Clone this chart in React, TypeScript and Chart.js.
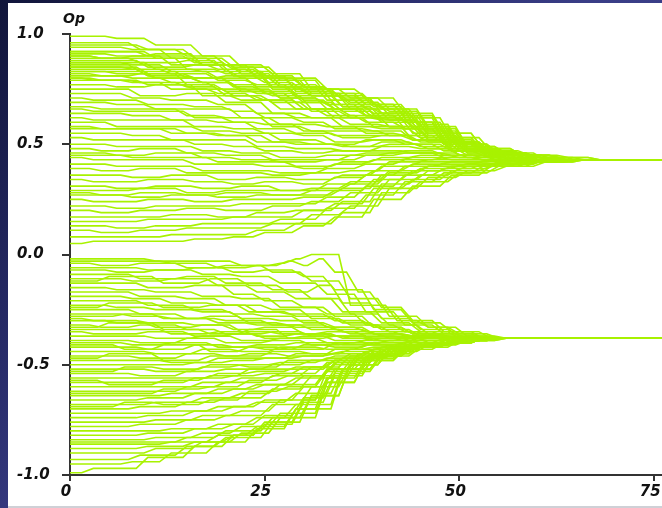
import React, { useEffect, useRef } from "react";
import { Chart, registerables } from "chart.js";

Chart.register(...registerables);

// ---- data ----
const axisTitle = "Op";
const xTicks = [0, 25, 50, 75];
const yTicks = [-1, -0.5, 0, 0.5, 1];
const lastStep = 76;
const upperConsensus = 0.43;
const lowerConsensus = -0.38;

// each run: opinion-change events as flat [t, opinion, t, opinion, ...]
const upperRuns: number[][] = [
  [0,.99, 6,.98, 11,.95, 17,.90, 22,.85, 27,.80, 33,.75, 38,.71, 43,.64, 48,.55, 53,.48, 58,.45, 63,.44, 68,.43],
  [0,.96, 9,.93, 15,.90, 20,.86, 26,.82, 31,.75, 36,.71, 41,.66, 46,.58, 51,.49, 56,.45, 62,.43],
  [0,.94, 8,.93, 13,.89, 19,.86, 24,.80, 29,.75, 35,.70, 40,.66, 45,.59, 50,.50, 55,.46, 60,.43],
  [0,.92, 3,.92, 10,.90, 16,.87, 21,.84, 25,.80, 30,.76, 34,.72, 39,.67, 44,.60, 49,.51, 54,.46, 59,.44, 66,.43],
  [0,.91, 6,.90, 11,.91, 17,.86, 22,.83, 27,.79, 33,.72, 38,.68, 43,.62, 48,.52, 53,.47, 58,.44, 63,.43],
  [0,.90, 4,.89, 9,.87, 15,.88, 20,.83, 26,.79, 31,.73, 36,.69, 41,.63, 46,.56, 51,.48, 56,.45, 60,.43],
  [0,.89, 8,.90, 13,.86, 19,.84, 24,.81, 29,.74, 35,.71, 40,.64, 45,.57, 50,.50, 55,.45, 59,.43],
  [0,.88, 3,.88, 10,.85, 16,.86, 21,.81, 25,.78, 30,.74, 34,.68, 39,.64, 44,.57, 49,.50, 54,.45, 58,.43],
  [0,.87, 6,.87, 11,.84, 17,.83, 22,.80, 27,.76, 33,.70, 38,.66, 43,.60, 48,.51, 53,.46, 58,.44, 62,.43],
  [0,.86, 4,.86, 9,.83, 15,.80, 20,.81, 26,.75, 31,.72, 36,.66, 41,.61, 46,.54, 51,.47, 56,.44, 60,.43],
  [0,.85, 8,.84, 13,.82, 19,.79, 24,.77, 29,.73, 35,.67, 40,.62, 45,.55, 50,.49, 55,.45, 60,.43],
  [0,.84, 3,.84, 10,.81, 16,.80, 21,.76, 25,.74, 30,.70, 34,.66, 39,.62, 44,.55, 49,.48, 54,.45, 58,.43],
  [0,.83, 6,.83, 11,.80, 17,.78, 22,.75, 27,.71, 33,.68, 38,.63, 43,.57, 48,.50, 53,.46, 57,.43],
  [0,.82, 4,.81, 9,.82, 15,.77, 20,.74, 26,.72, 31,.66, 36,.63, 41,.58, 46,.52, 51,.46, 56,.44, 59,.43],
  [0,.81, 8,.80, 13,.78, 19,.75, 24,.73, 29,.69, 35,.65, 40,.60, 45,.54, 50,.48, 55,.44, 58,.43],
  [0,.80, 3,.79, 10,.77, 16,.75, 21,.72, 25,.70, 30,.66, 34,.62, 39,.58, 44,.52, 49,.47, 54,.44, 57,.43],
  [0,.77, 6,.76, 11,.77, 17,.72, 22,.70, 27,.66, 33,.63, 38,.60, 43,.57, 48,.51, 53,.47, 58,.45, 63,.43],
  [0,.75, 4,.75, 9,.72, 15,.73, 20,.69, 26,.64, 31,.62, 36,.59, 41,.58, 46,.53, 51,.47, 56,.45, 61,.43],
  [0,.73, 8,.71, 13,.70, 19,.68, 24,.64, 29,.62, 35,.58, 40,.57, 45,.53, 50,.48, 55,.45, 60,.44, 65,.43],
  [0,.71, 3,.70, 10,.68, 16,.67, 21,.65, 25,.62, 30,.60, 34,.57, 39,.56, 44,.52, 49,.49, 54,.45, 59,.43],
  [0,.69, 6,.68, 11,.66, 17,.66, 22,.62, 27,.59, 33,.58, 38,.55, 43,.54, 48,.50, 53,.46, 58,.44, 62,.43],
  [0,.67, 4,.66, 9,.66, 15,.63, 20,.62, 26,.58, 31,.56, 36,.56, 41,.54, 46,.51, 51,.46, 56,.44, 60,.43],
  [0,.64, 8,.63, 13,.61, 19,.60, 24,.57, 29,.55, 35,.53, 40,.54, 45,.51, 50,.47, 55,.44, 60,.43],
  [0,.62, 3,.61, 10,.61, 16,.58, 21,.57, 25,.55, 30,.54, 34,.51, 39,.52, 44,.50, 49,.47, 54,.44, 58,.43],
  [0,.60, 6,.58, 11,.58, 17,.56, 22,.55, 27,.52, 33,.50, 38,.52, 43,.50, 48,.47, 53,.45, 58,.43],
  [0,.58, 4,.57, 9,.57, 15,.55, 20,.54, 26,.51, 31,.50, 36,.49, 41,.50, 46,.48, 51,.45, 56,.44, 60,.43],
  [0,.55, 8,.54, 13,.52, 19,.52, 24,.49, 29,.48, 35,.47, 40,.49, 45,.48, 50,.45, 55,.44, 59,.43],
  [0,.53, 3,.52, 10,.52, 16,.50, 21,.49, 25,.47, 30,.46, 34,.47, 39,.47, 44,.46, 49,.45, 54,.44, 58,.43],
  [0,.50, 6,.49, 11,.49, 17,.47, 22,.46, 27,.44, 33,.45, 38,.46, 43,.47, 48,.45, 53,.44, 57,.43],
  [0,.48, 4,.47, 9,.48, 15,.46, 20,.45, 26,.43, 31,.43, 36,.45, 41,.46, 46,.46, 51,.44, 56,.43],
  [0,.45, 8,.44, 13,.44, 19,.42, 24,.42, 29,.40, 35,.42, 40,.44, 45,.45, 50,.44, 55,.43],
  [0,.44, 3,.43, 10,.43, 16,.41, 21,.41, 25,.40, 30,.39, 34,.41, 39,.43, 44,.44, 49,.43],
  [0,.41, 6,.40, 11,.40, 17,.38, 22,.38, 27,.37, 33,.39, 38,.41, 43,.43, 48,.44, 53,.43],
  [0,.39, 4,.38, 9,.39, 15,.37, 20,.37, 26,.36, 31,.37, 36,.38, 41,.42, 46,.43],
  [0,.36, 8,.35, 13,.36, 19,.34, 24,.35, 29,.34, 35,.36, 40,.40, 45,.42, 50,.42, 55,.43],
  [0,.34, 3,.33, 10,.34, 16,.33, 21,.32, 25,.33, 30,.32, 34,.35, 39,.38, 44,.41, 49,.42, 54,.43],
  [0,.31, 6,.30, 11,.31, 17,.30, 22,.31, 27,.29, 33,.32, 38,.36, 43,.40, 48,.41, 53,.42, 58,.43],
  [0,.29, 4,.29, 9,.30, 15,.28, 20,.29, 26,.29, 31,.30, 36,.33, 41,.38, 46,.40, 51,.41, 56,.43],
  [0,.27, 8,.26, 13,.27, 19,.26, 24,.27, 29,.27, 35,.30, 40,.36, 45,.39, 50,.40, 55,.42, 60,.43],
  [0,.25, 3,.24, 10,.25, 16,.24, 21,.25, 25,.25, 30,.26, 34,.29, 39,.34, 44,.38, 49,.40, 54,.41, 59,.43],
  [0,.22, 6,.21, 11,.22, 17,.22, 22,.23, 27,.23, 33,.26, 38,.31, 43,.36, 48,.39, 53,.41, 58,.42, 62,.43],
  [0,.20, 4,.19, 9,.20, 15,.21, 20,.20, 26,.22, 31,.24, 36,.28, 41,.34, 46,.38, 51,.40, 56,.41, 61,.43],
  [0,.17, 8,.17, 13,.18, 19,.17, 24,.19, 29,.20, 35,.24, 40,.32, 45,.36, 50,.39, 55,.41, 60,.42, 65,.43],
  [0,.15, 3,.15, 10,.16, 16,.16, 21,.17, 25,.17, 30,.20, 34,.23, 39,.30, 44,.34, 49,.38, 54,.40, 59,.42, 63,.43],
  [0,.13, 6,.12, 11,.13, 17,.14, 22,.14, 27,.16, 33,.21, 38,.27, 43,.33, 48,.37, 53,.40, 58,.42, 63,.43],
  [0,.11, 4,.10, 9,.11, 15,.12, 20,.12, 26,.14, 31,.18, 36,.22, 41,.30, 46,.35, 51,.38, 56,.40, 61,.42, 66,.43],
  [0,.08, 8,.08, 13,.09, 19,.09, 24,.11, 29,.14, 35,.19, 40,.28, 45,.33, 50,.37, 55,.40, 60,.42, 66,.43],
  [0,.05, 3,.06, 10,.06, 16,.07, 21,.08, 25,.10, 30,.13, 34,.17, 39,.25, 44,.31, 49,.36, 54,.40, 59,.42, 64,.43],
  [0,.92, 6,.92, 11,.89, 17,.86, 22,.82, 27,.77, 33,.73, 38,.68, 43,.63, 48,.55, 53,.48, 58,.45, 63,.43],
  [0,.90, 4,.89, 9,.89, 15,.84, 20,.82, 26,.76, 31,.72, 36,.68, 41,.65, 46,.57, 51,.49, 56,.46, 61,.43],
  [0,.87, 8,.86, 13,.83, 19,.80, 24,.76, 29,.72, 35,.67, 40,.64, 45,.58, 50,.50, 55,.46, 60,.44, 64,.43],
  [0,.85, 3,.85, 10,.82, 16,.80, 21,.77, 25,.73, 30,.69, 34,.66, 39,.62, 44,.58, 49,.51, 54,.46, 59,.44, 63,.43],
  [0,.83, 6,.82, 11,.80, 17,.78, 22,.74, 27,.71, 33,.66, 38,.63, 43,.60, 48,.53, 53,.47, 58,.45, 62,.43],
  [0,.80, 4,.79, 9,.78, 15,.76, 20,.72, 26,.69, 31,.65, 36,.62, 41,.61, 46,.55, 51,.48, 56,.45, 60,.43],
  [0,.79, 8,.78, 13,.75, 19,.73, 24,.70, 29,.66, 35,.62, 40,.61, 45,.56, 50,.49, 55,.46, 60,.44, 64,.43],
  [0,.66, 3,.65, 10,.65, 16,.62, 21,.60, 25,.59, 30,.56, 34,.54, 39,.54, 44,.52, 49,.48, 54,.45, 59,.43],
  [0,.46, 6,.45, 11,.46, 17,.44, 22,.43, 27,.42, 33,.43, 38,.45, 43,.46, 48,.44, 53,.43],
  [0,.28, 4,.27, 9,.28, 15,.27, 20,.28, 26,.27, 31,.29, 36,.32, 41,.37, 46,.40, 51,.41, 56,.42, 61,.43],
  [0,.57, 8,.57, 13,.55, 19,.54, 24,.51, 29,.50, 35,.49, 40,.51, 45,.49, 50,.45, 55,.44, 59,.43],
  [0,.95, 3,.95, 10,.93, 16,.89, 21,.85, 25,.81, 30,.76, 34,.73, 39,.68, 44,.62, 49,.53, 54,.47, 59,.45, 64,.44, 68,.43],
];

const lowerRuns: number[][] = [
  [0,-.02, 6,-.02, 11,-.03, 17,-.03, 22,-.05, 27,-.04, 29,-.02, 31,0, 33,0, 36,-.23, 39,-.23, 42,-.3, 46,-.33, 50,-.36, 55,-.38],
  [0,-.03, 8,-.03, 13,-.04, 19,-.06, 24,-.05, 28,-.03, 30,-.05, 32,-.02, 34,-.08, 37,-.17, 40,-.24, 44,-.3, 48,-.35, 53,-.38],
  [0,-.04, 4,-.05, 9,-.04, 15,-.06, 20,-.05, 26,-.08, 31,-.12, 36,-.2, 41,-.28, 46,-.33, 51,-.37, 56,-.38],
  [0,-.06, 3,-.06, 10,-.07, 16,-.06, 21,-.08, 25,-.07, 30,-.1, 34,-.16, 39,-.25, 44,-.31, 49,-.35, 54,-.38],
  [0,-.07, 6,-.08, 11,-.07, 17,-.09, 22,-.1, 27,-.13, 33,-.18, 38,-.26, 43,-.32, 48,-.36, 53,-.38],
  [0,-.09, 4,-.09, 9,-.11, 15,-.1, 20,-.13, 26,-.16, 31,-.2, 36,-.27, 41,-.32, 46,-.36, 51,-.38],
  [0,-.11, 8,-.12, 13,-.11, 19,-.14, 24,-.17, 29,-.2, 35,-.26, 40,-.31, 45,-.35, 50,-.38],
  [0,-.13, 3,-.13, 10,-.15, 16,-.14, 21,-.18, 25,-.21, 30,-.24, 34,-.28, 39,-.33, 44,-.36, 49,-.38],
  [0,-.15, 6,-.16, 11,-.17, 17,-.19, 22,-.2, 27,-.24, 33,-.27, 38,-.32, 43,-.35, 48,-.37, 53,-.38],
  [0,-.17, 4,-.17, 9,-.19, 15,-.2, 20,-.23, 26,-.25, 31,-.29, 36,-.32, 41,-.35, 46,-.37, 51,-.38],
  [0,-.19, 8,-.2, 13,-.22, 19,-.23, 24,-.26, 29,-.28, 35,-.31, 40,-.34, 45,-.37, 50,-.38],
  [0,-.21, 3,-.21, 10,-.23, 16,-.25, 21,-.27, 25,-.28, 30,-.31, 34,-.33, 39,-.36, 44,-.37, 49,-.38],
  [0,-.23, 6,-.24, 11,-.25, 17,-.26, 22,-.29, 27,-.3, 33,-.33, 38,-.35, 43,-.37, 48,-.38],
  [0,-.25, 4,-.25, 9,-.27, 15,-.29, 20,-.3, 26,-.32, 31,-.34, 36,-.36, 41,-.38],
  [0,-.27, 8,-.28, 13,-.29, 19,-.31, 24,-.32, 29,-.33, 35,-.35, 40,-.37, 45,-.38],
  [0,-.29, 3,-.3, 10,-.31, 16,-.32, 21,-.34, 25,-.33, 30,-.36, 34,-.37, 39,-.38],
  [0,-.3, 6,-.31, 11,-.33, 17,-.32, 22,-.35, 27,-.36, 33,-.35, 38,-.37, 43,-.38],
  [0,-.32, 4,-.33, 9,-.32, 15,-.34, 20,-.36, 26,-.35, 31,-.37, 36,-.38],
  [0,-.34, 8,-.34, 13,-.36, 19,-.35, 24,-.37, 29,-.36, 35,-.38, 40,-.39, 45,-.38],
  [0,-.35, 3,-.36, 10,-.35, 16,-.37, 21,-.36, 25,-.38, 30,-.37, 34,-.39, 39,-.38],
  [0,-.37, 6,-.37, 11,-.38, 17,-.37, 22,-.39, 27,-.38, 33,-.4, 38,-.39, 43,-.38],
  [0,-.39, 4,-.39, 9,-.4, 15,-.38, 20,-.4, 26,-.39, 31,-.41, 36,-.4, 41,-.39, 46,-.38],
  [0,-.4, 8,-.41, 13,-.4, 19,-.42, 24,-.41, 29,-.4, 35,-.41, 40,-.4, 45,-.39, 50,-.38],
  [0,-.42, 3,-.42, 10,-.43, 16,-.41, 21,-.42, 25,-.43, 30,-.41, 34,-.42, 39,-.4, 44,-.39, 49,-.38],
  [0,-.44, 6,-.44, 11,-.45, 17,-.43, 22,-.44, 27,-.42, 33,-.43, 38,-.41, 43,-.4, 48,-.38],
  [0,-.46, 4,-.46, 9,-.47, 15,-.45, 20,-.46, 26,-.44, 31,-.45, 36,-.43, 41,-.41, 46,-.39, 51,-.38],
  [0,-.48, 8,-.48, 13,-.49, 19,-.47, 24,-.47, 29,-.45, 35,-.44, 40,-.42, 45,-.4, 50,-.39, 55,-.38],
  [0,-.5, 3,-.5, 10,-.5, 16,-.49, 21,-.48, 25,-.47, 30,-.46, 34,-.45, 39,-.43, 44,-.41, 49,-.39, 54,-.38],
  [0,-.52, 6,-.52, 11,-.53, 17,-.51, 22,-.5, 27,-.49, 33,-.47, 38,-.44, 43,-.42, 48,-.4, 53,-.38],
  [0,-.54, 4,-.54, 9,-.55, 15,-.53, 20,-.52, 26,-.5, 31,-.48, 36,-.45, 41,-.42, 46,-.4, 51,-.39, 56,-.38],
  [0,-.56, 8,-.56, 13,-.56, 19,-.54, 24,-.53, 29,-.51, 35,-.47, 40,-.43, 45,-.41, 50,-.39, 55,-.38],
  [0,-.58, 3,-.58, 10,-.58, 16,-.56, 21,-.55, 25,-.54, 30,-.51, 34,-.48, 39,-.44, 44,-.41, 49,-.39, 54,-.38],
  [0,-.6, 6,-.6, 11,-.6, 17,-.58, 22,-.56, 27,-.54, 33,-.49, 38,-.45, 43,-.42, 48,-.4, 53,-.38],
  [0,-.62, 4,-.62, 9,-.62, 15,-.6, 20,-.58, 26,-.55, 31,-.51, 36,-.46, 41,-.42, 46,-.4, 51,-.38],
  [0,-.64, 8,-.64, 13,-.63, 19,-.61, 24,-.59, 29,-.56, 35,-.49, 40,-.44, 45,-.41, 50,-.39, 55,-.38],
  [0,-.66, 3,-.66, 10,-.65, 16,-.63, 21,-.61, 25,-.59, 30,-.55, 34,-.49, 39,-.44, 44,-.41, 49,-.39, 54,-.38],
  [0,-.68, 6,-.68, 11,-.67, 17,-.65, 22,-.63, 27,-.59, 33,-.52, 38,-.46, 43,-.42, 48,-.4, 53,-.38],
  [0,-.7, 4,-.7, 9,-.69, 15,-.67, 20,-.65, 26,-.61, 31,-.55, 36,-.48, 41,-.43, 46,-.4, 51,-.38],
  [0,-.72, 8,-.72, 13,-.71, 19,-.69, 24,-.67, 29,-.63, 35,-.52, 40,-.45, 45,-.41, 50,-.39, 55,-.38],
  [0,-.74, 3,-.74, 10,-.73, 16,-.71, 21,-.69, 25,-.66, 30,-.6, 34,-.52, 39,-.45, 44,-.41, 49,-.39, 54,-.38],
  [0,-.76, 6,-.76, 11,-.75, 17,-.73, 22,-.71, 27,-.66, 33,-.56, 38,-.47, 43,-.42, 48,-.4, 53,-.38],
  [0,-.78, 4,-.78, 9,-.77, 15,-.75, 20,-.73, 26,-.68, 31,-.6, 36,-.5, 41,-.43, 46,-.4, 51,-.38],
  [0,-.8, 8,-.8, 13,-.79, 19,-.77, 24,-.74, 29,-.68, 35,-.52, 40,-.45, 45,-.41, 50,-.39, 55,-.38],
  [0,-.82, 3,-.82, 10,-.81, 16,-.79, 21,-.77, 25,-.73, 30,-.65, 34,-.54, 39,-.46, 44,-.42, 49,-.39, 54,-.38],
  [0,-.84, 6,-.84, 11,-.83, 17,-.81, 22,-.78, 27,-.72, 33,-.58, 38,-.48, 43,-.42, 48,-.4, 53,-.38],
  [0,-.85, 4,-.85, 9,-.85, 15,-.83, 20,-.8, 26,-.74, 31,-.64, 36,-.5, 41,-.43, 46,-.4, 51,-.38],
  [0,-.86, 8,-.86, 13,-.85, 19,-.82, 24,-.78, 29,-.7, 35,-.53, 40,-.46, 45,-.42, 50,-.39, 55,-.38],
  [0,-.88, 3,-.88, 10,-.87, 16,-.85, 21,-.82, 25,-.77, 30,-.67, 34,-.55, 39,-.46, 44,-.42, 49,-.39, 54,-.38],
  [0,-.9, 6,-.9, 11,-.88, 17,-.85, 22,-.81, 27,-.74, 33,-.58, 38,-.48, 43,-.43, 48,-.4, 53,-.38],
  [0,-.93, 4,-.93, 9,-.91, 15,-.87, 20,-.83, 26,-.76, 31,-.64, 36,-.5, 41,-.44, 46,-.41, 51,-.39, 56,-.38],
  [0,-.95, 8,-.94, 13,-.9, 19,-.85, 24,-.79, 29,-.7, 33,-.56, 37,-.47, 42,-.42, 47,-.4, 52,-.38],
  [0,-.99, 3,-.97, 10,-.92, 16,-.87, 21,-.82, 25,-.76, 30,-.66, 33,-.52, 37,-.45, 42,-.41, 48,-.39, 54,-.38],
  [0,-.33, 5,-.31, 12,-.34, 18,-.36, 23,-.34, 28,-.38, 34,-.37, 39,-.39, 44,-.38],
  [0,-.41, 7,-.43, 12,-.41, 18,-.44, 23,-.42, 28,-.43, 34,-.4, 39,-.41, 44,-.39, 49,-.38],
  [0,-.47, 5,-.45, 12,-.48, 18,-.46, 23,-.45, 28,-.46, 34,-.43, 39,-.42, 44,-.4, 49,-.38],
  [0,-.53, 7,-.51, 12,-.52, 18,-.5, 23,-.51, 28,-.48, 34,-.46, 39,-.43, 44,-.41, 49,-.39, 54,-.38],
  [0,-.57, 5,-.59, 12,-.57, 18,-.55, 23,-.52, 28,-.52, 34,-.48, 39,-.44, 44,-.41, 49,-.39, 54,-.38],
  [0,-.28, 7,-.27, 12,-.29, 18,-.28, 23,-.31, 28,-.32, 34,-.34, 39,-.36, 44,-.37, 49,-.38],
  [0,-.24, 5,-.22, 12,-.24, 18,-.23, 23,-.26, 28,-.27, 34,-.3, 39,-.33, 44,-.36, 49,-.38],
  [0,-.63, 7,-.63, 12,-.61, 18,-.6, 23,-.57, 28,-.55, 34,-.5, 39,-.45, 44,-.41, 49,-.39, 54,-.38],
  [0,-.12, 5,-.1, 12,-.13, 18,-.11, 23,-.14, 28,-.17, 32,-.14, 35,-.22, 40,-.29, 45,-.34, 50,-.37, 55,-.38],
  [0,-.69, 7,-.67, 12,-.68, 18,-.66, 23,-.62, 28,-.6, 33,-.53, 37,-.47, 42,-.42, 47,-.4, 52,-.38],
];

// ---- styles ----
const LINE_COLOR = "#a8f200";
const LINE_WIDTH = 1.6;
const RAMP = 1.5; // time units taken by each opinion jump (drawn as a short slope)
const AXIS_COLOR = "#333333";
const TEXT_COLOR = "#111111";
const FONT_FAMILY = '"DejaVu Sans", Verdana, sans-serif';

function toPoints(run: number[], consensus: number) {
  const pts: { x: number; y: number }[] = [{ x: run[0], y: run[1] }];
  for (let i = 2; i < run.length; i += 2) {
    const prevT = run[i - 2];
    const prevY = run[i - 1];
    pts.push({ x: Math.max(prevT, run[i] - RAMP), y: prevY });
    pts.push({ x: run[i], y: run[i + 1] });
  }
  pts.push({ x: lastStep, y: consensus });
  return pts;
}

const titlePlugin = {
  id: "opTitle",
  afterDraw(chart: any) {
    const ctx = chart.ctx;
    ctx.save();
    ctx.font = `italic bold 14px ${FONT_FAMILY}`;
    ctx.fillStyle = TEXT_COLOR;
    ctx.textAlign = "left";
    ctx.textBaseline = "alphabetic";
    ctx.fillText(axisTitle, chart.chartArea.left - 7, chart.chartArea.top - 11);
    ctx.restore();
  },
};

export default function App() {
  const canvasRef = useRef<HTMLCanvasElement | null>(null);

  useEffect(() => {
    if (!canvasRef.current) return;
    const datasets = [
      ...upperRuns.map((r) => toPoints(r, upperConsensus)),
      ...lowerRuns.map((r) => toPoints(r, lowerConsensus)),
    ].map((data) => ({
      data,
      borderColor: LINE_COLOR,
      borderWidth: LINE_WIDTH,
      pointRadius: 0,
      tension: 0,
      fill: false,
    }));

    const chart = new Chart(canvasRef.current, {
      type: "line",
      data: { datasets },
      plugins: [titlePlugin],
      options: {
        animation: false,
        responsive: false,
        events: [],
        layout: { padding: { left: 17, top: 34, right: 0, bottom: 0 } },
        plugins: { legend: { display: false }, tooltip: { enabled: false } },
        scales: {
          x: {
            type: "linear",
            min: 0,
            max: lastStep,
            afterBuildTicks: (s: any) => {
              s.ticks = xTicks.map((v) => ({ value: v }));
            },
            afterFit: (s: any) => {
              s.height = 33;
              s.paddingLeft = 0;
              s.paddingRight = 0;
            },
            grid: {
              display: true,
              drawOnChartArea: false,
              drawTicks: true,
              tickLength: 6,
              color: AXIS_COLOR,
              lineWidth: 2,
            },
            border: { display: true, color: AXIS_COLOR, width: 2 },
            ticks: {
              color: TEXT_COLOR,
              font: { family: FONT_FAMILY, size: 15, style: "italic", weight: "bold" },
              padding: 2,
              labelOffset: -4,
              maxRotation: 0,
              autoSkip: false,
              callback: (v: any) => String(v),
            },
          },
          y: {
            type: "linear",
            min: -1,
            max: 1,
            afterBuildTicks: (s: any) => {
              s.ticks = yTicks.map((v) => ({ value: v }));
            },
            afterFit: (s: any) => {
              s.width = 53;
              s.paddingTop = 0;
              s.paddingBottom = 0;
            },
            grid: {
              display: true,
              drawOnChartArea: false,
              drawTicks: true,
              tickLength: 8,
              color: AXIS_COLOR,
              lineWidth: 2,
            },
            border: { display: true, color: AXIS_COLOR, width: 2 },
            ticks: {
              color: TEXT_COLOR,
              crossAlign: "far",
              font: { family: FONT_FAMILY, size: 15, style: "italic", weight: "bold" },
              callback: (v: any) => Number(v).toFixed(1),
            },
          },
        },
      },
    } as any);
    return () => chart.destroy();
  }, []);

  return (
    <div
      style={{
        position: "fixed",
        left: 0,
        top: 0,
        width: 662,
        height: 508,
        overflow: "hidden",
        background:
          "linear-gradient(135deg, #11153a 0%, #272b68 30%, #393d86 50%, #3c4090 100%)",
      }}
    >
      <div
        style={{
          position: "absolute",
          left: 8,
          top: 3,
          width: 654,
          height: 503,
          background: "#ffffff",
          borderBottom: "2px solid #cfd0d6",
        }}
      />
      <canvas
        ref={canvasRef}
        width={662}
        height={508}
        style={{ position: "absolute", left: 0, top: 0, width: 662, height: 508 }}
      />
    </div>
  );
}
